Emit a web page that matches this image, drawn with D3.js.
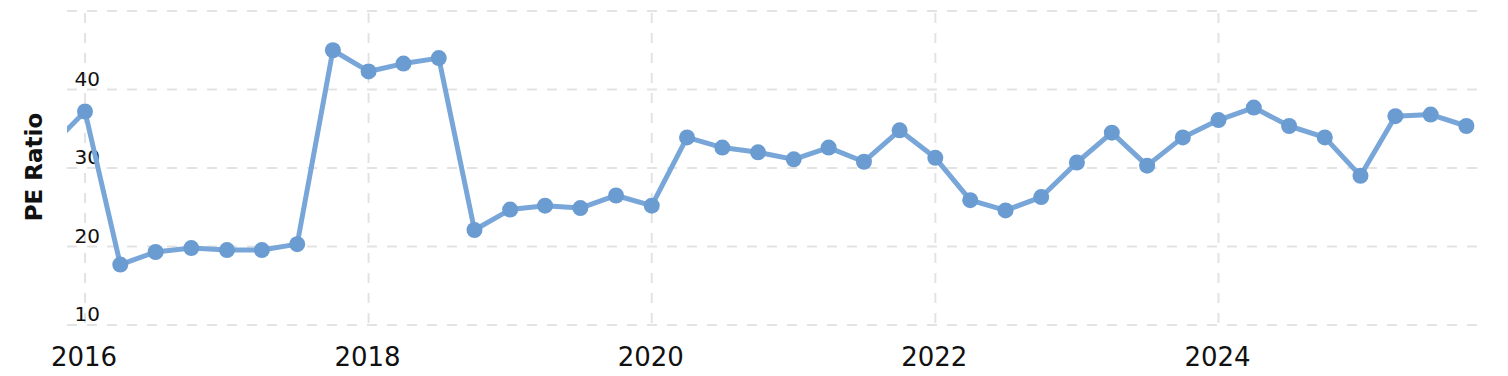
<!DOCTYPE html>
<meta charset="utf-8">
<script src="https://d3js.org/d3.v7.min.js"></script>
<style>
  body { margin: 0; background: #fff; }
  text { font-family: "DejaVu Sans", Verdana, sans-serif; }
</style>
<body>
<svg id="chart" width="1508" height="376"></svg>
<script>
// quarterly PE ratio readings (first one sits just off the left edge)
var dates = [
  "2015-10-01",
  "2016-01-01", "2016-04-01", "2016-07-01", "2016-10-01",
  "2017-01-01", "2017-04-01", "2017-07-01", "2017-10-01",
  "2018-01-01", "2018-04-01", "2018-07-01", "2018-10-01",
  "2019-01-01", "2019-04-01", "2019-07-01", "2019-10-01",
  "2020-01-01", "2020-04-01", "2020-07-01", "2020-10-01",
  "2021-01-01", "2021-04-01", "2021-07-01", "2021-10-01",
  "2022-01-01", "2022-04-01", "2022-07-01", "2022-10-01",
  "2023-01-01", "2023-04-01", "2023-07-01", "2023-10-01",
  "2024-01-01", "2024-04-01", "2024-07-01", "2024-10-01",
  "2025-01-01", "2025-04-01", "2025-07-01", "2025-10-01"
];
var peRatio = [
  32.6,
  37.2, 17.7, 19.3, 19.8,
  19.55, 19.55, 20.3, 45.0,
  42.3, 43.3, 44.0, 22.1,
  24.7, 25.2, 24.9, 26.5,
  25.2, 33.9, 32.6, 32.0,
  31.1, 32.6, 30.8, 34.8,
  31.3, 25.9, 24.6, 26.3,
  30.7, 34.5, 30.3, 33.9,
  36.1, 37.7, 35.35, 33.9,
  29.0, 36.6, 36.8, 35.35
];
var yTicks = [10, 20, 30, 40, 50];
var yLabels = ["10", "20", "30", "40"];
var xTickYears = [2016, 2018, 2020, 2022, 2024];

var parse = d3.timeParse("%Y-%m-%d");
var data = dates.map(function(d, i) { return { date: parse(d), value: peRatio[i] }; });

var svg = d3.select("#chart");
var plotLeft = 67, plotRight = 1477, plotTop = 11, plotBottom = 325;

var x = d3.scaleTime()
  .domain([new Date(2016, 0, 1), new Date(2024, 0, 1)])
  .range([85, 1218.5]);

var y = d3.scaleLinear().domain([10, 50]).range([plotBottom, plotTop]);

// grid
var grid = svg.append("g");
grid.selectAll(".hg").data(yTicks).enter().append("line")
  .attr("x1", plotLeft).attr("x2", plotRight)
  .attr("y1", function(d) { return y(d); })
  .attr("y2", function(d) { return y(d); })
  .attr("stroke", "#e3e3e3").attr("stroke-width", 2)
  .attr("stroke-dasharray", "10,10");
grid.selectAll(".vg").data(xTickYears).enter().append("line")
  .attr("x1", function(d) { return x(new Date(d, 0, 1)); })
  .attr("x2", function(d) { return x(new Date(d, 0, 1)); })
  .attr("y1", plotTop + 2).attr("y2", plotBottom)
  .attr("stroke", "#e3e3e3").attr("stroke-width", 2)
  .attr("stroke-dasharray", "10,10");

// y labels sit just above their gridline
svg.append("g").selectAll("text").data(yLabels).enter().append("text")
  .attr("x", 100)
  .attr("y", function(d) { return y(+d) - 4; })
  .attr("text-anchor", "end")
  .attr("font-size", 20)
  .attr("fill", "#111")
  .text(function(d) { return d; });

// x labels
svg.append("g").selectAll("text").data(xTickYears).enter().append("text")
  .attr("x", function(d) { return x(new Date(d, 0, 1)) - 1; })
  .attr("y", 366)
  .attr("text-anchor", "middle")
  .attr("font-size", 26)
  .attr("fill", "#111")
  .text(function(d) { return d; });

// axis title
svg.append("text")
  .attr("transform", "translate(42,167) rotate(-90)")
  .attr("text-anchor", "middle")
  .attr("font-size", 23)
  .attr("font-weight", "bold")
  .attr("fill", "#111")
  .text("PE Ratio");

svg.append("clipPath").attr("id", "clip")
  .append("rect").attr("x", plotLeft).attr("y", 0)
  .attr("width", plotRight - plotLeft + 20).attr("height", 376);

var plot = svg.append("g").attr("clip-path", "url(#clip)");
plot.append("path")
  .datum(data)
  .attr("fill", "none")
  .attr("stroke", "#78a6d8")
  .attr("stroke-width", 5)
  .attr("stroke-linejoin", "round")
  .attr("d", d3.line().x(function(d) { return x(d.date); }).y(function(d) { return y(d.value); }));

plot.selectAll("circle").data(data).enter().append("circle")
  .attr("cx", function(d) { return x(d.date); })
  .attr("cy", function(d) { return y(d.value); })
  .attr("r", 8)
  .attr("fill", "#6a9bd1");
</script>
</body>
